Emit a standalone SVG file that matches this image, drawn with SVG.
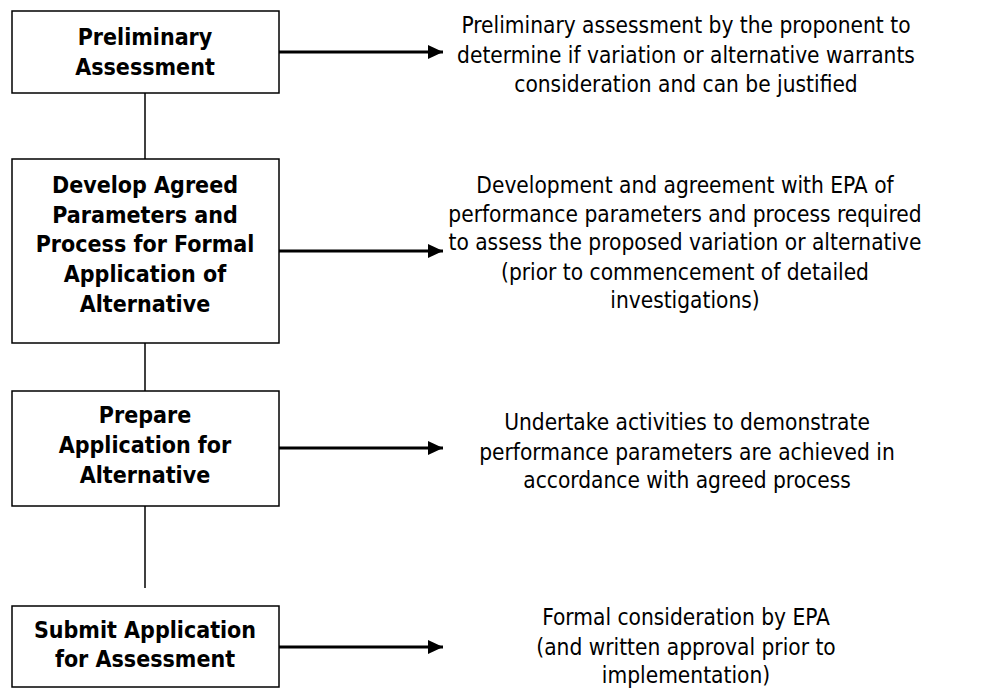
<svg xmlns="http://www.w3.org/2000/svg" width="985" height="688" viewBox="0 0 985 688">
<style>
.box{fill:#fff;stroke:#000;stroke-width:1.5}
.bt{font-family:"DejaVu Sans Condensed","DejaVu Sans",sans-serif;font-weight:bold;font-size:23px;text-anchor:middle;fill:#000}
.dt{font-family:"DejaVu Sans Condensed","DejaVu Sans",sans-serif;font-size:22.5px;text-anchor:middle;fill:#000}
.ln{stroke:#000;stroke-width:1.5;fill:none}
.ar{stroke:#000;stroke-width:3;fill:none;marker-end:url(#ah)}
</style>
<defs>
<marker id="ah" markerUnits="userSpaceOnUse" markerWidth="16" markerHeight="14" refX="15" refY="7" orient="auto">
<path d="M0,0 L15,7 L0,14 Z" fill="#000"/>
</marker>
</defs>
<g id="connectors">
<line class="ln" x1="145" y1="93" x2="145" y2="159"/>
<line class="ln" x1="145" y1="343" x2="145" y2="391"/>
<line class="ln" x1="145" y1="506" x2="145" y2="588"/>
<line class="ar" x1="279" y1="52" x2="443" y2="52"/>
<line class="ar" x1="279" y1="251" x2="443" y2="251"/>
<line class="ar" x1="279" y1="448" x2="443" y2="448"/>
<line class="ar" x1="279" y1="647" x2="443" y2="647"/>
</g>
<g id="n1">
<rect class="box" x="12" y="11" width="267" height="82"/>
<text class="bt" x="145" y="45">Preliminary</text>
<text class="bt" x="145" y="75">Assessment</text>
</g>
<g id="n2">
<rect class="box" x="12" y="159" width="267" height="184"/>
<text class="bt" x="145" y="193">Develop Agreed</text>
<text class="bt" x="145" y="223">Parameters and</text>
<text class="bt" x="145" y="252">Process for Formal</text>
<text class="bt" x="145" y="282">Application of</text>
<text class="bt" x="145" y="312">Alternative</text>
</g>
<g id="n3">
<rect class="box" x="12" y="391" width="267" height="115"/>
<text class="bt" x="145" y="423">Prepare</text>
<text class="bt" x="145" y="453">Application for</text>
<text class="bt" x="145" y="483">Alternative</text>
</g>
<g id="n4">
<rect class="box" x="12" y="606" width="267" height="81"/>
<text class="bt" x="145" y="638">Submit Application</text>
<text class="bt" x="145" y="667">for Assessment</text>
</g>
<g id="d1">
<text class="dt" x="686" y="33">Preliminary assessment by the proponent to</text>
<text class="dt" x="686" y="63">determine if variation or alternative warrants</text>
<text class="dt" x="686" y="92">consideration and can be justified</text>
</g>
<g id="d2">
<text class="dt" x="685" y="193">Development and agreement with EPA of</text>
<text class="dt" x="685" y="222">performance parameters and process required</text>
<text class="dt" x="685" y="250">to assess the proposed variation or alternative</text>
<text class="dt" x="685" y="280">(prior to commencement of detailed</text>
<text class="dt" x="685" y="308">investigations)</text>
</g>
<g id="d3">
<text class="dt" x="687" y="430">Undertake activities to demonstrate</text>
<text class="dt" x="687" y="460">performance parameters are achieved in</text>
<text class="dt" x="687" y="488">accordance with agreed process</text>
</g>
<g id="d4">
<text class="dt" x="686" y="625">Formal consideration by EPA</text>
<text class="dt" x="686" y="655">(and written approval prior to</text>
<text class="dt" x="686" y="683">implementation)</text>
</g>
</svg>
